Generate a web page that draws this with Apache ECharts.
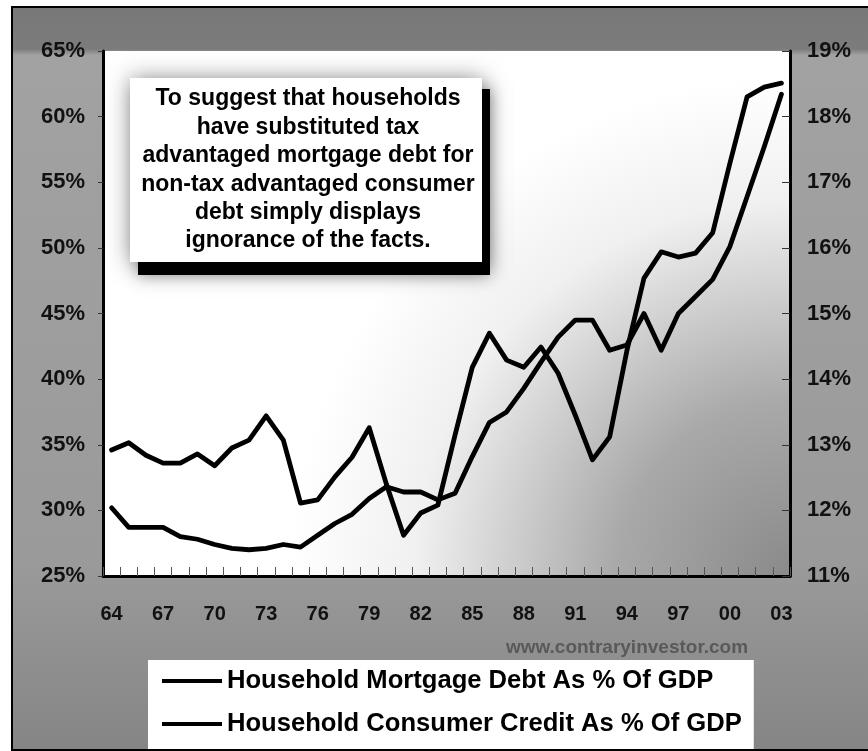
<!DOCTYPE html>
<html>
<head>
<meta charset="utf-8">
<title>Household Debt As % Of GDP</title>
<script src="https://cdn.jsdelivr.net/npm/echarts@6/dist/echarts.min.js"></script>
<style>
  html, body { margin: 0; padding: 0; background: #ffffff; }
  #chart { width: 868px; height: 751px; }
</style>
</head>
<body>
<div id="chart"></div>
<script>
// Calendar years on the category axis
const years = [
  '1964','1965','1966','1967','1968','1969','1970','1971','1972','1973',
  '1974','1975','1976','1977','1978','1979','1980','1981','1982','1983',
  '1984','1985','1986','1987','1988','1989','1990','1991','1992','1993',
  '1994','1995','1996','1997','1998','1999','2000','2001','2002','2003'
];

// Household mortgage debt, % of GDP (left axis)
const mortgageDebt = [
  30.2, 28.7, 28.7, 28.7, 28.0, 27.8, 27.4, 27.1, 27.0, 27.1,
  27.4, 27.2, 28.1, 29.0, 29.7, 30.9, 31.8, 31.4, 31.4, 30.8,
  31.3, 34.1, 36.7, 37.5, 39.3, 41.3, 43.2, 44.5, 44.5, 42.2,
  42.6, 45.0, 42.2, 45.0, 46.3, 47.6, 50.1, 53.9, 57.7, 61.7
];

// Household consumer credit, % of GDP (right axis)
const consumerCredit = [
  12.92, 13.03, 12.84, 12.72, 12.72, 12.86, 12.68, 12.95, 13.07, 13.44,
  13.07, 12.11, 12.16, 12.51, 12.81, 13.26, 12.40, 11.62, 11.96, 12.08,
  13.15, 14.18, 14.70, 14.29, 14.18, 14.49, 14.09, 13.45, 12.77, 13.12,
  14.43, 15.54, 15.94, 15.86, 15.92, 16.23, 17.29, 18.30, 18.45, 18.51
];

const seriesNames = [
  'Household Mortgage Debt As % Of GDP',
  'Household Consumer Credit As % Of GDP'
];

const noteLines = [
  'To suggest that households',
  'have substituted tax',
  'advantaged mortgage debt for',
  'non-tax advantaged consumer',
  'debt simply displays',
  'ignorance of the facts.'
];

const sourceText = 'www.contraryinvestor.com';

const FONT = '"Liberation Sans", Arial, Helvetica, sans-serif';
const xLabelStyle = { color: '#111111', fontSize: 20, fontWeight: 'bold', fontFamily: FONT };
const yLabelStyle = { color: '#111111', fontSize: 22, fontWeight: 'bold', fontFamily: FONT };

const chart = echarts.init(document.getElementById('chart'), null, { renderer: 'canvas' });

const option = {
  animation: false,
  backgroundColor: '#ffffff',
  grid: {
    left: 103,
    right: 78,
    top: 51,
    bottom: 175,
    show: true,
    borderWidth: 0,
    backgroundColor: {
      type: 'radial', x: 1, y: 1, r: 0.95,
      colorStops: [
        { offset: 0, color: '#8a8a8a' },
        { offset: 0.35, color: '#a9a9a9' },
        { offset: 0.75, color: '#f0f0f0' },
        { offset: 1, color: '#ffffff' }
      ]
    }
  },
  xAxis: {
    type: 'category',
    data: years,
    boundaryGap: true,
    axisLine: { show: true, lineStyle: { color: '#000000', width: 3 } },
    axisTick: { show: true, inside: true, length: 9, interval: 0, lineStyle: { color: '#555555', width: 1 } },
    axisLabel: Object.assign({ interval: 2, margin: 28, formatter: v => v.slice(2) }, xLabelStyle),
    splitLine: { show: false }
  },
  yAxis: [
    {
      type: 'value', min: 25, max: 65, interval: 5, position: 'left',
      axisLine: { show: true, lineStyle: { color: '#000000', width: 3 } },
      axisTick: { show: true, length: 5, lineStyle: { color: '#333333', width: 1 } },
      axisLabel: Object.assign({ margin: 18, formatter: '{value}%' }, yLabelStyle),
      splitLine: { show: false }
    },
    {
      type: 'value', min: 11, max: 19, interval: 1, position: 'right',
      axisLine: { show: true, lineStyle: { color: '#000000', width: 3 } },
      axisTick: { show: true, inside: true, length: 8, lineStyle: { color: '#333333', width: 1 } },
      axisLabel: Object.assign({ margin: 17, formatter: '{value}%' }, yLabelStyle),
      splitLine: { show: false }
    }
  ],
  legend: {
    orient: 'vertical',
    left: 148,
    top: 660,
    padding: [8, 12, 12, 14],
    backgroundColor: '#ffffff',
    icon: 'rect',
    itemWidth: 60,
    itemHeight: 4,
    itemGap: 17,
    itemStyle: { color: '#000000' },
    textStyle: { color: '#000000', fontSize: 25.6, fontWeight: 'bold', fontFamily: FONT, lineHeight: 25 },
    data: seriesNames
  },
  series: [
    {
      name: seriesNames[0],
      type: 'line',
      yAxisIndex: 0,
      data: mortgageDebt,
      symbol: 'none',
      lineStyle: { color: '#000000', width: 4.8, join: 'round', cap: 'round' },
      itemStyle: { color: '#000000' },
      z: 5
    },
    {
      name: seriesNames[1],
      type: 'line',
      yAxisIndex: 1,
      data: consumerCredit,
      symbol: 'none',
      lineStyle: { color: '#000000', width: 4.8, join: 'round', cap: 'round' },
      itemStyle: { color: '#000000' },
      z: 5
    }
  ],
  graphic: [
    {
      // gray chart-area backdrop with its frame
      type: 'rect',
      z: -100,
      shape: { x: 12, y: 7, width: 858, height: 743 },
      style: {
        fill: new echarts.graphic.LinearGradient(0, 0, 0, 1, [
          { offset: 0, color: '#777777' },
          { offset: 0.058, color: '#7c7c7c' },
          { offset: 0.066, color: '#a2a2a2' },
          { offset: 0.75, color: '#9a9a9a' },
          { offset: 1, color: '#858585' }
        ]),
        stroke: '#000000',
        lineWidth: 2
      }
    },
    {
      type: 'text',
      z: 10,
      style: {
        text: sourceText,
        x: 627,
        y: 648,
        align: 'center',
        verticalAlign: 'middle',
        fill: '#595959',
        fontSize: 19,
        fontWeight: 'bold',
        fontFamily: FONT
      }
    },
    {
      // commentary box with a hard drop shadow
      type: 'group',
      z: 50,
      children: [
        {
          type: 'rect',
          shape: { x: 138, y: 89, width: 352, height: 186 },
          style: { fill: '#000000', shadowBlur: 16, shadowColor: 'rgba(0,0,0,0.45)' }
        },
        {
          type: 'rect',
          shape: { x: 130, y: 78, width: 352, height: 184 },
          style: { fill: '#ffffff', shadowBlur: 22, shadowColor: 'rgba(0,0,0,0.4)' }
        },
        {
          type: 'text',
          style: {
            text: noteLines.join('\n'),
            x: 308,
            y: 170,
            align: 'center',
            verticalAlign: 'middle',
            fill: '#000000',
            fontSize: 23,
            fontWeight: 'bold',
            fontFamily: FONT,
            lineHeight: 28.4
          }
        }
      ]
    }
  ]
};

chart.setOption(option);
</script>
</body>
</html>
